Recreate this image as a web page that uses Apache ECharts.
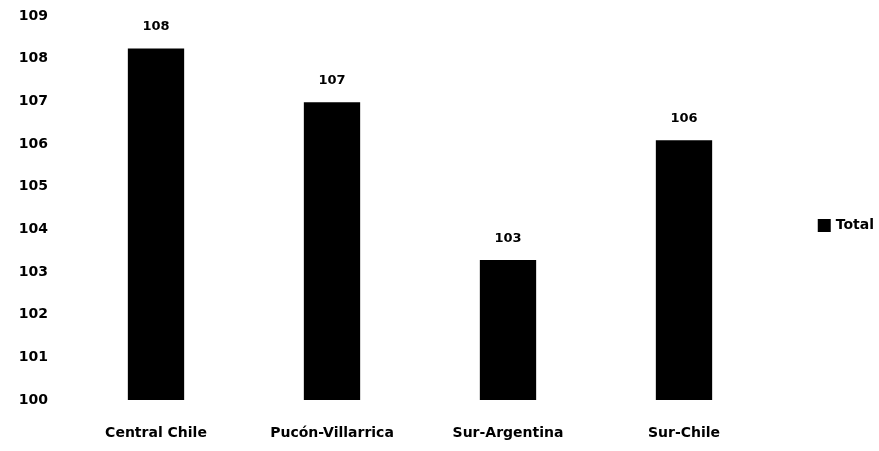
<!DOCTYPE html>
<html>
<head>
<meta charset="utf-8">
<script src="https://cdn.jsdelivr.net/npm/echarts@6/dist/echarts.min.js"></script>
<style>html,body{margin:0;padding:0;background:#fff;}#c{width:879px;height:451px;}</style>
</head>
<body>
<div id="c"></div>
<script>
const categories = ["Central Chile", "Pucón-Villarrica", "Sur-Argentina", "Sur-Chile"];
const totalValues = [108.24, 106.98, 103.28, 106.09];
const yTicks = [100, 101, 102, 103, 104, 105, 106, 107, 108, 109];

const font = 'DejaVu Sans, sans-serif';
const chart = echarts.init(document.getElementById('c'));
chart.setOption({
  animation: false,
  textStyle: { fontFamily: font },
  grid: { left: 68, right: 107, top: 16, bottom: 51 },
  legend: {
    data: ['Total'],
    right: 0,
    top: 'middle',
    orient: 'vertical',
    icon: 'rect',
    itemWidth: 13,
    itemHeight: 13,
    itemGap: 4,
    textStyle: { fontSize: 14, fontWeight: 'bold', color: '#000', fontFamily: font }
  },
  xAxis: {
    type: 'category',
    data: categories,
    axisLine: { show: false },
    axisTick: { show: false },
    axisLabel: { color: '#000', fontSize: 14, fontWeight: 'bold', fontFamily: font, margin: 26 }
  },
  yAxis: {
    type: 'value',
    min: yTicks[0],
    max: yTicks[yTicks.length - 1],
    interval: 1,
    splitLine: { show: false },
    axisLine: { show: false },
    axisTick: { show: false },
    axisLabel: { color: '#000', fontSize: 14, fontWeight: 'bold', fontFamily: font, margin: 20 }
  },
  series: [{
    name: 'Total',
    type: 'bar',
    data: totalValues,
    barWidth: '32%',
    itemStyle: { color: '#000' },
    label: {
      show: true,
      position: 'top',
      distance: 15,
      color: '#000',
      fontSize: 13,
      fontWeight: 'bold',
      fontFamily: font,
      formatter: p => Math.round(p.value)
    }
  }]
});
</script>
</body>
</html>
